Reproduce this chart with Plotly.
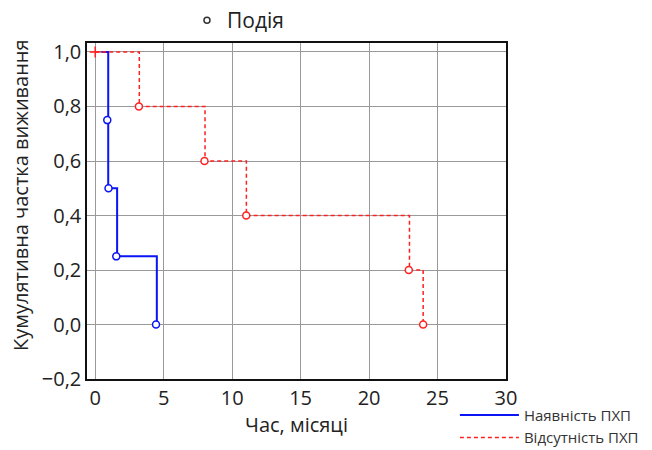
import plotly.graph_objects as go

# Data
blue_step_t = [0.45, 0.95, 1.6, 4.5]
blue_step_s = [1.0, 0.5, 0.25, 0.0]
blue_event_t = [0.88, 0.97, 1.54, 4.44]
blue_event_s = [0.75, 0.5, 0.25, 0.0]

red_step_t = [0.0, 3.22, 8.02, 11.04, 22.95, 23.95]
red_step_s = [1.0, 0.8, 0.6, 0.4, 0.2, 0.0]
red_event_t = [3.19, 7.98, 11.03, 22.9, 23.95]
red_event_s = [0.8, 0.6, 0.4, 0.2, 0.0]
red_censor_t = [0.0]
red_censor_s = [1.0]

x_ticks = [0, 5, 10, 15, 20, 25, 30]
y_ticks = [-0.2, 0.0, 0.2, 0.4, 0.6, 0.8, 1.0]

BLUE = "#0a14f5"
RED = "#ff2020"
FONT = "Open Sans, Noto Sans, sans-serif"

fig = go.Figure()

fig.add_trace(go.Scatter(x=blue_step_t, y=blue_step_s, mode="lines", line_shape="hv",
                         line=dict(color=BLUE, width=2), name="Наявність ПХП",
                         legend="legend2"))
fig.add_trace(go.Scatter(x=red_step_t, y=red_step_s, mode="lines", line_shape="hv",
                         line=dict(color=RED, width=1.5, dash="4px,3px"), name="Відсутність ПХП",
                         legend="legend2"))
fig.add_trace(go.Scatter(x=red_censor_t, y=red_censor_s, mode="markers",
                         marker=dict(symbol="cross-thin", size=8, line=dict(color=RED, width=1.5)),
                         showlegend=False))
fig.add_trace(go.Scatter(x=blue_event_t, y=blue_event_s, mode="markers",
                         marker=dict(symbol="circle", size=7, color="white",
                                     line=dict(color=BLUE, width=1.5)),
                         showlegend=False))
fig.add_trace(go.Scatter(x=red_event_t, y=red_event_s, mode="markers",
                         marker=dict(symbol="circle", size=7, color="white",
                                     line=dict(color=RED, width=1.5)),
                         showlegend=False))
fig.add_trace(go.Scatter(x=[None], y=[None], mode="markers", name="Подія",
                         marker=dict(symbol="circle-open", size=6, color="#333333",
                                     line=dict(width=1.5)),
                         legend="legend"))

fig.add_annotation(text="Кумулятивна частка виживання", textangle=-90,
                   xref="paper", yref="paper", x=-0.1575, y=0.545,
                   xanchor="center", yanchor="middle", showarrow=False,
                   font=dict(size=20, family=FONT, color="#222222"))

fig.update_layout(
    width=652, height=450,
    margin=dict(l=87, r=146, t=43, b=71, autoexpand=False),
    paper_bgcolor="white", plot_bgcolor="white",
    separators=", ",
    font=dict(family=FONT, color="#222222"),
    showlegend=True,
    legend=dict(orientation="h", x=0.365, y=1.0, xref="container", yref="container",
                xanchor="center", yanchor="top",
                font=dict(size=21, family=FONT, color="#222222"),
                bgcolor="rgba(0,0,0,0)", itemwidth=30),
    legend2=dict(orientation="v", x=0.6977, y=0.114, xref="container", yref="container",
                 xanchor="left", yanchor="top",
                 font=dict(size=15, family=FONT, color="#333333"),
                 bgcolor="rgba(0,0,0,0)", tracegroupgap=4, itemwidth=59),
    xaxis=dict(range=[-0.6, 30], tickvals=x_ticks, showgrid=True, gridcolor="#9a9a9a",
               gridwidth=1.2, zeroline=False, showline=True, linecolor="#111111",
               linewidth=1.5, mirror=True, ticks="", tickfont=dict(size=20),
               title=dict(text="Час, місяці", font=dict(size=20), standoff=0)),
    yaxis=dict(range=[-0.2, 1.033], tickvals=y_ticks, tickformat=".1f",
               showgrid=True, gridcolor="#9a9a9a", gridwidth=1.2, zeroline=False,
               showline=True, linecolor="#111111", linewidth=1.5, mirror=True,
               ticks="", tickfont=dict(size=20)),
)

fig.write_html("out.html")
